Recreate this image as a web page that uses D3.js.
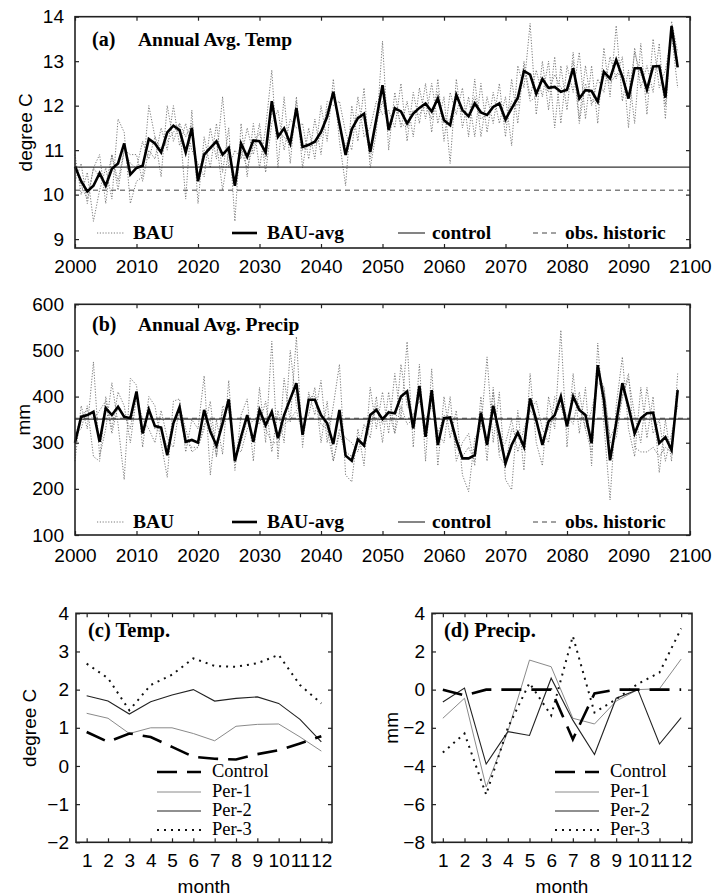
<!DOCTYPE html>
<html>
<head>
<meta charset="utf-8">
<script src="https://cdn.jsdelivr.net/npm/d3@7"></script>
<style>
body { margin: 0; background: #fff; }
</style>
</head>
<body>
<div id="chart"></div>
<script>
// ---- data ----
let years = d3.range(2000, 2099);
let months = [1, 2, 3, 4, 5, 6, 7, 8, 9, 10, 11, 12];

let tempAvg = [
  10.63,10.30,10.07,10.20,10.48,10.20,10.58,10.70,11.15,10.45,
  10.60,10.65,11.25,11.15,10.95,11.40,11.55,11.45,10.95,11.50,
  10.30,10.90,11.05,11.20,10.90,11.05,10.20,11.15,10.85,11.22,
  11.20,10.95,12.10,11.30,11.49,11.15,11.95,11.07,11.12,11.19,
  11.41,11.75,12.31,11.60,10.89,11.47,11.72,11.82,10.96,11.70,
  12.46,11.45,11.94,11.87,11.60,11.82,11.95,12.05,11.87,12.16,
  11.67,11.56,12.24,11.90,11.76,12.05,11.85,11.79,11.97,12.05,
  11.69,11.94,12.18,12.78,12.70,12.27,12.60,12.40,12.42,12.31,
  12.36,12.84,12.16,12.35,12.33,12.09,12.76,12.61,13.03,12.65,
  12.16,12.84,12.84,12.36,12.88,12.89,12.18,13.79,12.86];
let tempRun1 = [
  10.9,10.0,10.5,9.4,10.1,10.6,9.9,11.7,11.4,9.8,
  10.3,10.4,12.0,11.3,10.4,12.0,11.2,11.6,9.9,11.9,
  9.8,11.3,10.6,11.6,10.5,11.5,9.4,11.6,10.4,11.6,
  10.6,11.5,12.8,10.6,12.2,10.7,12.2,10.6,11.5,10.8,
  12.0,11.2,12.6,11.2,10.2,12.0,11.2,12.4,10.6,11.4,
  13.45,11.0,12.3,11.5,12.1,11.3,12.4,11.7,12.5,11.6,
  12.2,10.7,12.6,11.5,12.2,11.3,12.5,11.4,12.3,11.6,
  12.2,11.1,12.9,12.4,13.85,11.8,13.0,11.9,13.1,11.6,
  12.9,12.3,13.2,11.7,12.9,11.6,13.3,12.2,13.8,12.1,
  12.8,11.6,13.4,11.8,13.5,12.4,12.8,13.6,12.4];
let tempRun2 = [
  10.3,10.7,9.8,10.6,10.9,9.8,10.9,10.3,11.0,10.9,
  10.9,10.3,11.0,10.8,11.5,11.0,12.0,11.1,11.6,11.0,
  10.7,10.4,11.5,10.8,12.2,10.6,11.0,10.8,11.5,10.9,
  11.6,10.5,11.6,11.9,11.0,11.7,11.5,11.6,10.8,11.7,
  10.9,12.1,12.0,12.1,11.4,11.0,12.2,11.3,11.5,12.1,
  11.8,11.9,11.5,12.5,11.2,12.3,11.6,12.5,11.4,12.6,
  11.2,12.3,11.8,12.4,11.3,12.6,11.3,12.2,11.6,12.5,
  11.3,12.6,11.6,13.0,12.2,12.8,12.2,13.0,11.5,12.9,
  11.9,13.2,11.7,12.9,12.0,12.6,12.3,13.1,12.6,13.1,
  11.5,13.3,12.4,12.9,12.3,13.4,11.7,13.9,13.2];
let tempRun3 = [
  10.7,10.2,9.9,10.6,10.4,10.2,10.9,10.1,11.0,10.7,
  10.6,11.2,10.8,11.3,11.0,11.2,11.4,11.6,11.3,11.6,
  10.4,11.0,11.0,11.2,10.1,11.0,10.2,11.0,10.6,11.1,
  11.4,10.8,11.9,11.4,11.3,11.1,12.1,11.0,11.1,11.1,
  11.3,11.9,12.3,11.5,11.1,11.4,11.8,11.7,10.8,11.6,
  12.1,11.5,12.0,11.6,11.5,11.9,11.8,12.0,11.7,12.3,
  11.6,11.7,12.3,11.8,11.8,12.2,11.7,11.8,12.0,12.0,
  11.6,12.1,12.0,12.9,12.1,12.2,12.6,12.3,12.7,12.4,
  12.3,13.0,11.6,12.5,12.1,12.1,12.7,12.5,12.7,12.7,
  12.2,13.2,12.7,12.4,12.8,12.9,12.0,13.8,13.0];
let tempControl = 10.62;
let tempObs = 10.1;

let precAvg = [
  300,356,360,367,302,375,360,378,356,353,
  411,320,372,336,333,273,342,377,302,306,
  300,371,324,294,342,394,260,313,360,302,
  371,338,367,310,360,395,429,317,393,393,
  360,342,297,371,272,261,307,294,360,371,
  351,366,364,400,411,331,423,313,414,295,
  353,355,306,266,266,273,365,295,380,320,
  255,295,322,291,396,349,295,346,360,400,
  336,400,371,360,299,468,393,262,343,429,
  378,320,353,364,365,299,312,284,414];
let precRun1 = [
  260,380,330,475,270,330,430,340,220,440,
  425,290,400,380,300,225,390,395,280,350,
  330,445,230,350,275,435,240,360,395,260,
  420,300,520,265,440,345,530,290,410,360,
  435,300,380,470,230,215,330,250,420,330,
  410,320,450,350,519,290,470,260,460,250,
  400,310,370,230,194,310,330,486,300,410,
  220,198,370,240,450,300,250,400,330,544,
  290,450,320,420,250,516,340,176,380,486,
  330,270,420,310,400,235,350,260,450];
let precRun2 = [
  320,330,380,270,260,400,330,410,380,300,
  400,350,330,300,370,310,290,380,330,280,
  290,330,390,270,380,370,290,280,330,350,
  340,390,280,370,300,500,380,350,360,420,
  300,390,260,330,310,300,280,340,310,400,
  300,410,320,470,380,360,390,350,380,320,
  300,400,260,300,320,250,400,260,420,280,
  300,350,280,330,370,390,330,300,400,380,
  360,340,410,330,370,430,420,300,310,400,
  440,360,300,420,320,350,260,320,380];
let precRun3 = [
  310,360,370,350,370,390,320,380,360,330,
  410,320,380,330,330,290,350,360,300,290,
  290,340,350,270,370,380,260,300,350,300,
  360,330,300,300,340,350,370,320,400,400,
  340,330,260,320,280,270,310,290,340,380,
  340,370,320,380,340,350,400,330,400,320,
  360,350,290,270,290,260,370,300,410,270,
  250,330,310,300,370,350,310,330,360,380,
  330,410,380,330,280,450,420,310,340,400,
  450,290,280,280,290,270,290,280,420];
let precControl = 351;
let precObs = 353;

let monTempControl = [0.89,0.63,0.85,0.76,0.50,0.24,0.19,0.17,0.31,0.41,0.59,0.78];
let monTempPer1 = [1.38,1.25,0.85,1.00,1.00,0.85,0.66,1.04,1.09,1.10,0.76,0.39];
let monTempPer2 = [1.84,1.70,1.36,1.68,1.86,2.00,1.70,1.77,1.81,1.64,1.22,0.63];
let monTempPer3 = [2.68,2.30,1.46,2.12,2.39,2.82,2.62,2.60,2.69,2.91,2.12,1.64];

let monPrecControl = [0,-0.3,0,0,0,0,-2.6,-0.2,0,0,0,0];
let monPrecPer1 = [-1.5,-0.45,-5.1,-2.2,1.55,1.2,-1.5,-1.8,-0.6,0,0.05,1.6];
let monPrecPer2 = [-0.65,0.08,-3.9,-2.2,-2.4,0.6,-1.6,-3.4,-0.45,0,-2.85,-1.47];
let monPrecPer3 = [-3.3,-2.3,-5.5,-2.0,0.35,-1.35,2.8,-1.2,-0.5,0.3,0.9,3.2];

let annualLegend = ["BAU", "BAU-avg", "control", "obs. historic"];
let monthLegend = ["Control", "Per-1", "Per-2", "Per-3"];

// ---- drawing ----
let width = 714, height = 896;
let sans = "'Liberation Sans', Arial, sans-serif";
let serif = "'Liberation Serif', 'Times New Roman', serif";

let svg = d3.select("#chart").append("svg")
    .attr("width", width)
    .attr("height", height);

let styles = {
    run:     {stroke: "#7a7a7a", width: 1,   dash: "1.2,1.6"},
    avg:     {stroke: "#000",    width: 2.6, dash: null},
    control: {stroke: "#333",    width: 1.2, dash: null},
    obs:     {stroke: "#444",    width: 1,   dash: "5,4"},
    mControl:{stroke: "#000",    width: 2.6, dash: "20,10"},
    per1:    {stroke: "#8a8a8a", width: 1,   dash: null},
    per2:    {stroke: "#222",    width: 1.1, dash: null},
    per3:    {stroke: "#111",    width: 2,   dash: "2,5"}
};

function styled(sel, st) {
    sel.attr("fill", "none")
       .attr("stroke", st.stroke)
       .attr("stroke-width", st.width);
    if (st.dash) sel.attr("stroke-dasharray", st.dash);
    return sel;
}

function framePanel(x, y, xTicks, yTicks, xPad, yPad, fmtX) {
    let g = svg.append("g");
    let x0 = x.range()[0], x1 = x.range()[1];
    let y0 = y.range()[0], y1 = y.range()[1];

    g.append("g").attr("transform", "translate(0," + y0 + ")")
        .call(d3.axisBottom(x).tickValues(xTicks).tickSize(-4).tickPadding(xPad).tickFormat(fmtX));
    g.append("g").attr("transform", "translate(" + x0 + ",0)")
        .call(d3.axisLeft(y).tickValues(yTicks).tickSize(-4).tickPadding(yPad).tickFormat(d3.format("d")));
    g.append("g").attr("transform", "translate(0," + y1 + ")")
        .call(d3.axisTop(x).tickValues(xTicks).tickSize(-4).tickFormat(""));
    g.append("g").attr("transform", "translate(" + x1 + ",0)")
        .call(d3.axisRight(y).tickValues(yTicks).tickSize(-4).tickFormat(""));

    g.selectAll(".domain").remove();
    g.selectAll(".tick line").attr("stroke", "#222").attr("stroke-width", 1.2);
    g.selectAll("text").attr("font-family", sans).attr("font-size", 19).attr("fill", "#000");

    g.append("rect")
        .attr("x", x0).attr("y", y1)
        .attr("width", x1 - x0).attr("height", y0 - y1)
        .attr("fill", "none").attr("stroke", "#222").attr("stroke-width", 1.6);
    return g;
}

function yLabel(text, x, yc) {
    svg.append("text")
        .attr("transform", "translate(" + x + "," + yc + ") rotate(-90)")
        .attr("text-anchor", "middle")
        .attr("font-family", sans).attr("font-size", 19)
        .text(text);
}

function annualPanel(opt) {
    let x = d3.scaleLinear().domain([2000, 2100]).range([75, 690]);
    let y = d3.scaleLinear().domain(opt.yDomain).range([opt.bottom, opt.top]);

    let line = d3.line()
        .x(function(d, i) { return x(years[i]); })
        .y(function(d) { return y(d); })
        .curve(d3.curveLinear);

    let plot = svg.append("g");
    opt.runs.forEach(function(r) {
        styled(plot.append("path").attr("d", line(r)), styles.run);
    });
    styled(plot.append("line")
        .attr("x1", x(2000)).attr("x2", x(2100))
        .attr("y1", y(opt.control)).attr("y2", y(opt.control)), styles.control);
    styled(plot.append("line")
        .attr("x1", x(2000)).attr("x2", x(2100))
        .attr("y1", y(opt.obs)).attr("y2", y(opt.obs)), styles.obs);
    styled(plot.append("path").attr("d", line(opt.avg)), styles.avg)
        .attr("stroke-linejoin", "miter");

    framePanel(x, y, d3.range(2000, 2101, 10), opt.yTicks, opt.xPad, 11, d3.format("d"));
    yLabel(opt.ylab, opt.ylabX, (opt.top + opt.bottom) / 2);

    svg.append("text").attr("x", 92).attr("y", opt.titleY)
        .attr("font-family", serif).attr("font-weight", "bold").attr("font-size", 20)
        .text(opt.tag);
    svg.append("text").attr("x", 138).attr("y", opt.titleY)
        .attr("font-family", serif).attr("font-weight", "bold").attr("font-size", 19.5)
        .text(opt.title);

    let legX = [[97, 125, 133], [232, 257, 267], [398, 425, 432], [533, 557, 565]];
    let legSt = [styles.run, styles.avg, styles.control, styles.obs];
    annualLegend.forEach(function(name, i) {
        styled(svg.append("line")
            .attr("x1", legX[i][0]).attr("x2", legX[i][1])
            .attr("y1", opt.legY - 6).attr("y2", opt.legY - 6), legSt[i]);
        svg.append("text").attr("x", legX[i][2]).attr("y", opt.legY)
            .attr("font-family", serif).attr("font-weight", "bold").attr("font-size", 19.5)
            .text(name);
    });
}

annualPanel({
    yDomain: [8.8, 14], top: 16.7, bottom: 248, yTicks: [9, 10, 11, 12, 13, 14],
    runs: [tempRun1, tempRun2, tempRun3], avg: tempAvg,
    control: tempControl, obs: tempObs, xPad: 11.5,
    ylab: "degree C", ylabX: 32, tag: "(a)", title: "Annual Avg. Temp",
    titleY: 46, legY: 239
});
annualPanel({
    yDomain: [100, 600], top: 304.3, bottom: 535, yTicks: [100, 200, 300, 400, 500, 600],
    runs: [precRun1, precRun2, precRun3], avg: precAvg,
    control: precControl, obs: precObs, xPad: 13.5,
    ylab: "mm", ylabX: 30, tag: "(b)", title: "Annual Avg. Precip",
    titleY: 331, legY: 528
});

function monthPanel(opt) {
    let x = d3.scaleLinear().domain([0.5, 12.5]).range([opt.left, opt.right]);
    let y = d3.scaleLinear().domain(opt.yDomain).range([842.3, 613.3]);

    let line = d3.line()
        .x(function(d, i) { return x(months[i]); })
        .y(function(d) { return y(d); });

    let series = [opt.control, opt.per1, opt.per2, opt.per3];
    let st = [styles.mControl, styles.per1, styles.per2, styles.per3];
    let plot = svg.append("g");
    [1, 2, 3, 0].forEach(function(k) {
        styled(plot.append("path").attr("d", line(series[k])), st[k]);
    });

    framePanel(x, y, months, opt.yTicks, 11.5, 7, d3.format("d"));
    yLabel(opt.ylab, opt.ylabX, (613.3 + 842.3) / 2);

    svg.append("text")
        .attr("x", (opt.left + opt.right) / 2).attr("y", 893)
        .attr("text-anchor", "middle")
        .attr("font-family", sans).attr("font-size", 19)
        .text("month");

    svg.append("text").attr("x", opt.left + 12).attr("y", 637)
        .attr("font-family", serif).attr("font-weight", "bold").attr("font-size", 20.5)
        .text(opt.title);

    let rowY = [777, 797, 816, 835];
    monthLegend.forEach(function(name, i) {
        styled(svg.append("line")
            .attr("x1", opt.legX).attr("x2", opt.legX + 44)
            .attr("y1", rowY[i] - 5).attr("y2", rowY[i] - 5), st[i]);
        svg.append("text").attr("x", opt.legX + 55).attr("y", rowY[i])
            .attr("font-family", serif).attr("font-size", 18.5)
            .text(name);
    });
}

monthPanel({
    left: 76, right: 332, yDomain: [-2, 4], yTicks: [-2, -1, 0, 1, 2, 3, 4],
    control: monTempControl, per1: monTempPer1, per2: monTempPer2, per3: monTempPer3,
    ylab: "degree C", ylabX: 36, title: "(c) Temp.", legX: 157
});
monthPanel({
    left: 432, right: 692, yDomain: [-8, 4], yTicks: [-8, -6, -4, -2, 0, 2, 4],
    control: monPrecControl, per1: monPrecPer1, per2: monPrecPer2, per3: monPrecPer3,
    ylab: "mm", ylabX: 398, title: "(d) Precip.", legX: 555
});
</script>
</body>
</html>
